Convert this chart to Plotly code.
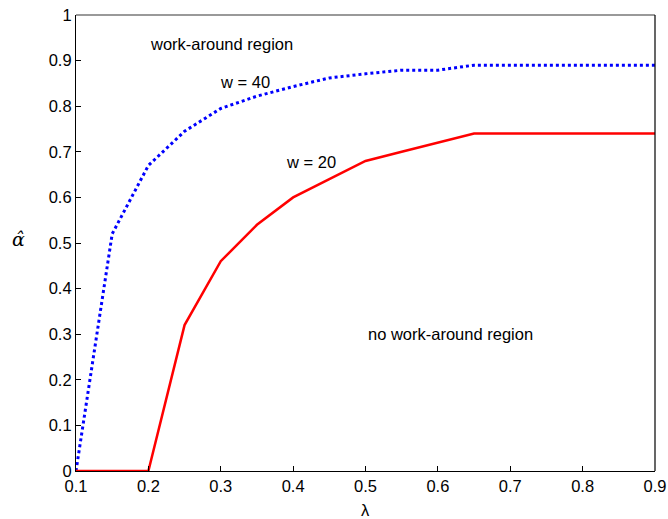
import plotly.graph_objects as go

lam = [0.1, 0.15, 0.2, 0.25, 0.3, 0.35, 0.4, 0.45, 0.5, 0.55, 0.6, 0.65, 0.7, 0.75, 0.8, 0.85, 0.9]
w40 = [0.0, 0.52, 0.67, 0.745, 0.795, 0.822, 0.843, 0.862, 0.871, 0.879, 0.879, 0.89, 0.89, 0.89, 0.89, 0.89, 0.89]
w20 = [0.0, 0.0, 0.0, 0.32, 0.46, 0.54, 0.60, 0.64, 0.68, 0.70, 0.72, 0.74, 0.74, 0.74, 0.74, 0.74, 0.74]
x_ticks = [0.1, 0.2, 0.3, 0.4, 0.5, 0.6, 0.7, 0.8, 0.9]
y_ticks = [0, 0.1, 0.2, 0.3, 0.4, 0.5, 0.6, 0.7, 0.8, 0.9, 1]
y_tick_text = ["0", "0.1", "0.2", "0.3", "0.4", "0.5", "0.6", "0.7", "0.8", "0.9", "1"]

font = "Liberation Sans, Arial, Helvetica, sans-serif"
fs = 16.5

fig = go.Figure()
fig.add_trace(go.Scatter(x=lam, y=w40, mode="lines",
                         line=dict(color="#0000ff", width=3, dash="dot"),
                         showlegend=False))
fig.add_trace(go.Scatter(x=lam, y=w20, mode="lines",
                         line=dict(color="#ff0000", width=2.5),
                         showlegend=False))

annots = [
    ("work-around region", 0.301, 0.937),
    ("w = 40", 0.334, 0.852),
    ("w = 20", 0.425, 0.677),
    ("no work-around region", 0.618, 0.301),
]
for t, x, y in annots:
    fig.add_annotation(x=x, y=y, text=t, showarrow=False, xanchor="center", yanchor="middle",
                       font=dict(size=fs, color="black", family=font))

# axis titles
fig.add_annotation(xref="paper", yref="paper", x=0.5, y=-0.086, text="λ",
                   xanchor="center", yanchor="middle",
                   showarrow=False, font=dict(size=fs, family=font))
fig.add_annotation(xref="paper", yref="paper", x=-0.1, y=0.508, text="<i>α̂</i>",
                   xanchor="center", yanchor="middle",
                   showarrow=False, font=dict(size=19, family="DejaVu Serif, serif"))

fig.add_shape(type="line", xref="paper", yref="paper", x0=0, x1=1, y0=1, y1=1,
              line=dict(color="#777777", width=1.5))
fig.add_shape(type="line", xref="paper", yref="paper", x0=1, x1=1, y0=0, y1=1,
              line=dict(color="black", width=1.2))

fig.update_layout(
    width=668, height=519,
    margin=dict(l=76, r=13, t=15, b=48),
    plot_bgcolor="white", paper_bgcolor="white",
    font=dict(family=font, size=fs, color="black"),
    xaxis=dict(range=[0.1, 0.9], tickvals=x_ticks, ticktext=[f"{v:.1f}" for v in x_ticks],
               ticks="inside", ticklen=5, tickcolor="black", showline=True,
               linecolor="black", linewidth=1.2, showgrid=False, zeroline=False,
               automargin=False, ticklabeloverflow="allow"),
    yaxis=dict(range=[0, 1], tickvals=y_ticks, ticktext=y_tick_text,
               ticks="inside", ticklen=5, tickcolor="black", showline=True,
               linecolor="black", linewidth=1.2, showgrid=False, zeroline=False,
               automargin=False, ticklabeloverflow="allow"),
)

fig.write_html("out.html", config={"displayModeBar": False},
               post_script="document.body.style.margin='0';document.body.style.overflow='hidden';")
